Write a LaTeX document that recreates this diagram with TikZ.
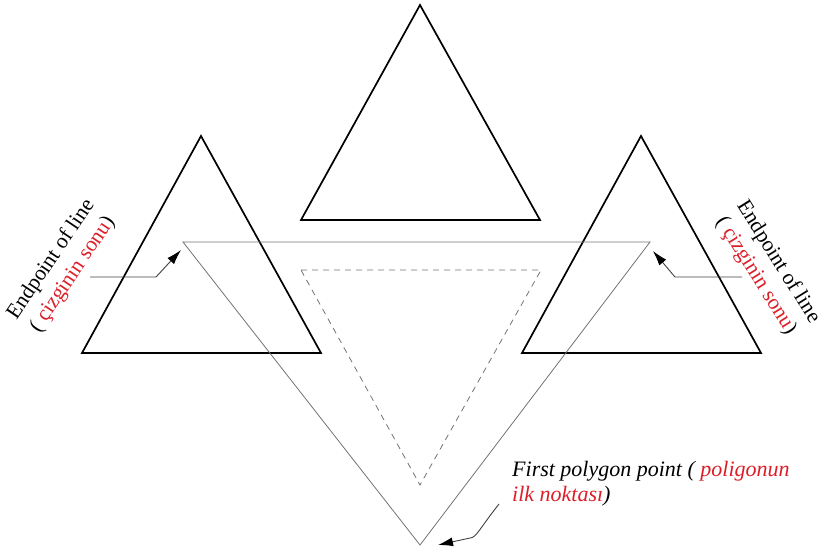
\documentclass[tikz,border=0pt]{standalone}
\usepackage{fontspec}
\setmainfont{Liberation Serif}
\usetikzlibrary{arrows.meta}
\definecolor{lblred}{RGB}{220,30,40}
\begin{document}
\begin{tikzpicture}[x=1pt,y=-1pt,
  bold/.style={draw=black,line width=1.7pt,line join=miter},
  thinline/.style={draw=black!55,line width=0.8pt},
  dashline/.style={draw=black!55,line width=0.8pt,dash pattern=on 6pt off 5pt},
  lead/.style={draw=black!75,line width=0.9pt,-{Latex[length=15pt,width=9pt,color=black]}},
  lbl/.style={font=\fontsize{21.5}{26}\selectfont,align=center,inner sep=0pt}]
\useasboundingbox (0,0) rectangle (821,550);
% top triangle
\coordinate (ta) at (420,5);
\coordinate (tl) at (301,220);
\coordinate (tr) at (540,220);
\draw[bold] (ta) -- (tr) -- (tl) -- cycle;
% left triangle
\coordinate (la) at (201,136);
\coordinate (ll) at (82,353);
\coordinate (lr) at (321,353);
\draw[bold] (la) -- (lr) -- (ll) -- cycle;
% right triangle
\coordinate (ra) at (641,136);
\coordinate (rl) at (522,353);
\coordinate (rr) at (761,353);
\draw[bold] (ra) -- (rr) -- (rl) -- cycle;
% large inverted gray triangle
\coordinate (gl) at (183,242);
\coordinate (gr) at (650,242);
\coordinate (gb) at (420,545);
\draw[thinline] (gl) -- (gr) -- (gb) -- cycle;
% dashed inverted triangle
\coordinate (dl) at (301,270);
\coordinate (dr) at (541,270);
\coordinate (db) at (420,485);
\draw[dashline] (dl) -- (dr) -- (db) -- cycle;
% labels
\node[lbl,rotate=56] (ltxt) at (62,267) {Endpoint of line\\( {\color{lblred}çizginin sonu})};
\node[lbl,rotate=-58] (rtxt) at (767,269) {Endpoint of line\\( {\color{lblred}çizginin sonu})};
\node[lbl,anchor=north west,align=left,font=\fontsize{22}{25}\selectfont\itshape] (btxt) at (512,461)
  {First polygon point ( {\color{lblred}poligonun}\\{\color{lblred}ilk noktası})};
% leaders
\coordinate (l0) at (90,277);
\coordinate (l1) at (156,277);
\coordinate (lt) at (181,250);
\draw[lead] (l0) -- (l1) -- (lt);
\coordinate (r0) at (742,277);
\coordinate (r1) at (675,277);
\coordinate (rt) at (653,251);
\draw[lead] (r0) -- (r1) -- (rt);
\coordinate (b0) at (499,504);
\coordinate (b1) at (470,538);
\coordinate (bt) at (438,545);
\draw[lead] (b0) .. controls (480,528) and (476,538) .. (b1) -- (bt);
\end{tikzpicture}
\end{document}
